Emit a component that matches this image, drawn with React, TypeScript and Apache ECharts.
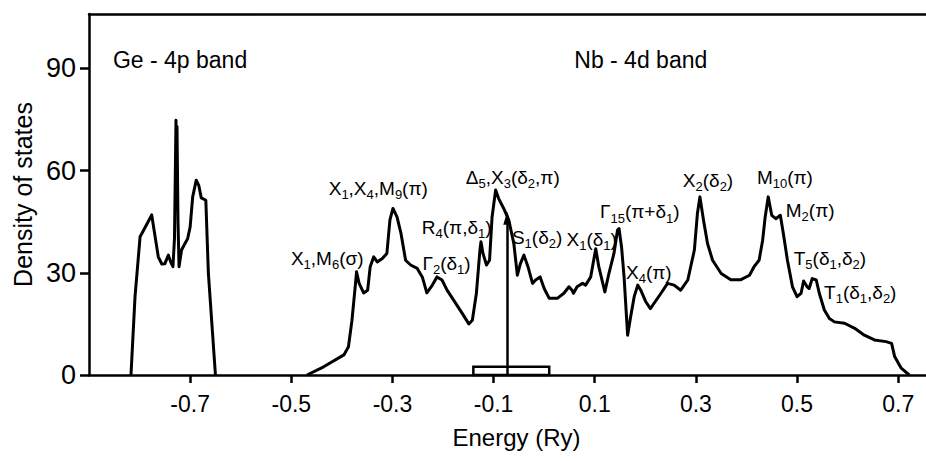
import React, { useEffect, useRef } from "react";
import * as echarts from "echarts";

const xTicks = [-0.7, -0.5, -0.3, -0.1, 0.1, 0.3, 0.5, 0.7];
const yTicks = [0, 30, 60, 90];

const geEnergy = [-0.817, -0.809, -0.799, -0.792, -0.776, -0.763, -0.756, -0.75, -0.743, -0.738, -0.734, -0.731, -0.728, -0.727, -0.726, -0.724, -0.722, -0.717, -0.71, -0.705, -0.7, -0.695, -0.688, -0.683, -0.678, -0.669, -0.664, -0.65];
const geDos = [0, 23, 40.6, 42.5, 47.0, 34.7, 32.6, 32.7, 35.2, 33.0, 31.8, 40, 74.8, 60, 73, 45, 31.8, 36.7, 38.7, 40, 43.5, 52.3, 57.2, 55.7, 52, 51.3, 30, 0];

const nbEnergy = [-0.469, -0.436, -0.396, -0.387, -0.38, -0.373, -0.371, -0.366, -0.357, -0.349, -0.344, -0.337, -0.33, -0.32, -0.311, -0.305, -0.299, -0.291, -0.283, -0.274, -0.264, -0.251, -0.241, -0.232, -0.221, -0.212, -0.202, -0.192, -0.179, -0.162, -0.149, -0.142, -0.134, -0.127, -0.125, -0.121, -0.114, -0.108, -0.103, -0.096, -0.09, -0.08, -0.07, -0.06, -0.053, -0.047, -0.04, -0.032, -0.023, -0.017, -0.008, 0.0, 0.01, 0.026, 0.039, 0.049, 0.055, 0.058, 0.065, 0.076, 0.082, 0.092, 0.102, 0.108, 0.12, 0.128, 0.138, 0.145, 0.148, 0.153, 0.158, 0.165, 0.171, 0.178, 0.185, 0.191, 0.201, 0.21, 0.217, 0.231, 0.244, 0.257, 0.27, 0.284, 0.297, 0.303, 0.308, 0.315, 0.323, 0.333, 0.35, 0.369, 0.389, 0.406, 0.415, 0.425, 0.432, 0.437, 0.443, 0.45, 0.458, 0.467, 0.473, 0.481, 0.491, 0.5, 0.508, 0.513, 0.52, 0.524, 0.53, 0.538, 0.544, 0.554, 0.564, 0.574, 0.594, 0.614, 0.633, 0.653, 0.676, 0.687, 0.693, 0.706, 0.722];
const nbDos = [0, 2.4, 5.9, 8.3, 16.1, 26.9, 30.3, 27.0, 24.1, 24.9, 31.8, 34.7, 33.2, 34.2, 35.7, 45.5, 48.9, 46.4, 41.5, 33.7, 32.3, 31.3, 28.8, 24.1, 26.4, 28.8, 27.9, 24.9, 22.0, 18.1, 15.0, 16.1, 24.0, 36.7, 39.1, 35.7, 32.3, 33.7, 46.4, 54.3, 51.8, 48.9, 45.5, 38.6, 29.3, 32.7, 35.2, 31.8, 26.9, 27.9, 28.8, 25.4, 22.5, 22.5, 24.0, 25.9, 24.9, 24.0, 25.9, 26.9, 26.4, 28.8, 37.1, 31.8, 24.4, 29.8, 35.7, 42.5, 43.0, 37.6, 28.8, 11.7, 17.1, 23.0, 26.4, 24.9, 21.5, 19.5, 21.0, 24.0, 26.9, 26.4, 24.9, 27.9, 36.7, 47.4, 52.3, 45.5, 38.6, 33.7, 29.8, 28.0, 28.0, 29.3, 31.8, 33.7, 39.6, 46.4, 52.3, 46.9, 45.9, 46.9, 41.5, 33.7, 25.9, 23.0, 24.0, 27.6, 25.9, 25.4, 28.3, 27.9, 24.0, 19.1, 16.6, 15.6, 15.2, 13.7, 11.7, 10.3, 9.8, 9.3, 5.4, 2.0, 0];

// Fermi level marker and the small box on the energy axis
const fermiEnergy = -0.073;
const fermiArrowTop = 46;
const boxEnergyRange = [-0.14, 0.01];
const boxHeight = 2.4;

// annotations (rich text: {s|...} = subscript)
const annoText = [
  "Ge - 4p band",
  "Nb - 4d band",
  "X{s|1},M{s|6}(σ)",
  "X{s|1},X{s|4},M{s|9}(π)",
  "Δ{s|5},X{s|3}(δ{s|2},π)",
  "R{s|4}(π,δ{s|1})",
  "Γ{s|2}(δ{s|1})",
  "S{s|1}(δ{s|2})",
  "X{s|1}(δ{s|1})",
  "Γ{s|15}(π+δ{s|1})",
  "X{s|4}(π)",
  "X{s|2}(δ{s|2})",
  "M{s|10}(π)",
  "M{s|2}(π)",
  "T{s|5}(δ{s|1},δ{s|2})",
  "T{s|1}(δ{s|1},δ{s|2})",
];
const annoEnergy = [-0.72, 0.191, -0.429, -0.328, -0.062, -0.173, -0.193, -0.014, 0.094, 0.189, 0.207, 0.324, 0.476, 0.526, 0.565, 0.625];
const annoDos = [92.4, 92.4, 34.3, 54.8, 58.1, 43.4, 32.8, 40.5, 39.8, 48.0, 30.2, 57.2, 58.1, 48.4, 34.3, 24.3];

const FONT = "'Liberation Sans', Arial, sans-serif";
const INK = "#000";

export default function App() {
  const ref = useRef<HTMLDivElement>(null);

  useEffect(() => {
    if (!ref.current) return;
    const chart = echarts.init(ref.current, undefined, { renderer: "svg" });

    const geData = geEnergy.map((e, i) => [e, geDos[i]]);
    const nbData = nbEnergy.map((e, i) => [e, nbDos[i]]);
    const annoData = annoText.map((t, i) => {
      const big = i < 2;
      return {
        value: [annoEnergy[i], annoDos[i]],
        label: {
          formatter: t,
          fontSize: big ? 23 : 19,
        },
      };
    });

    chart.setOption({
      animation: false,
      backgroundColor: "#fff",
      textStyle: { fontFamily: FONT, color: INK },
      grid: { left: 89, top: 14, right: 0, bottom: 86, containLabel: false },
      xAxis: [
        {
          type: "value",
          min: -0.9,
          max: 0.755,
          interval: 0.2,
          position: "bottom",
          name: "Energy (Ry)",
          nameLocation: "middle",
          nameGap: 50,
          nameTextStyle: { fontSize: 24, color: INK, fontFamily: FONT, padding: [0, 0, 0, 18] },
          axisLine: { show: true, onZero: false, lineStyle: { color: INK, width: 2.5 } },
          axisTick: { show: true, customValues: xTicks, length: 8, lineStyle: { color: INK, width: 2.5 } },
          axisLabel: {
            show: true,
            customValues: xTicks,
            margin: 17,
            fontSize: 23,
            color: INK,
            fontFamily: FONT,
            formatter: (v: number) => v.toFixed(1),
          },
          splitLine: { show: false },
        },
        {
          type: "value",
          min: -0.9,
          max: 0.755,
          position: "top",
          axisLine: { show: true, onZero: false, lineStyle: { color: INK, width: 2.5 } },
          axisTick: { show: false },
          axisLabel: { show: false },
          splitLine: { show: false },
        },
      ],
      yAxis: {
        type: "value",
        min: 0,
        max: 106,
        interval: 30,
        position: "left",
        name: "Density of states",
        nameLocation: "middle",
        nameGap: 52,
        nameTextStyle: { fontSize: 25, color: INK, fontFamily: FONT },
        axisLine: { show: true, onZero: false, lineStyle: { color: INK, width: 2.5 } },
        axisTick: { show: true, customValues: yTicks, length: 9, lineStyle: { color: INK, width: 2.5 } },
        axisLabel: { show: true, customValues: yTicks, margin: 13, fontSize: 27, color: INK, fontFamily: FONT },
        splitLine: { show: false },
      },
      series: [
        {
          name: "Ge-4p",
          type: "line",
          data: geData,
          showSymbol: false,
          symbol: "none",
          lineStyle: { color: INK, width: 3, join: "round" },
          silent: true,
        },
        {
          name: "Nb-4d",
          type: "line",
          data: nbData,
          showSymbol: false,
          symbol: "none",
          lineStyle: { color: INK, width: 3, join: "round" },
          silent: true,
          markLine: {
            silent: true,
            symbol: ["none", "triangle"],
            symbolSize: [8, 13],
            label: { show: false },
            lineStyle: { color: INK, width: 2.5, type: "solid" },
            itemStyle: { color: INK },
            data: [[{ coord: [fermiEnergy, 0] }, { coord: [fermiEnergy, fermiArrowTop] }]],
          },
          markArea: {
            silent: true,
            itemStyle: { color: "rgba(0,0,0,0)", borderColor: INK, borderWidth: 2.5 },
            data: [[{ coord: [boxEnergyRange[0], 0] }, { coord: [boxEnergyRange[1], boxHeight] }]],
          },
        },
        {
          name: "labels",
          type: "scatter",
          data: annoData,
          symbolSize: 0,
          silent: true,
          itemStyle: { opacity: 1 },
          label: {
            show: true,
            position: "inside",
            align: "center",
            verticalAlign: "middle",
            color: INK,
            opacity: 1,
            fontFamily: FONT,
            fontSize: 19,
            rich: {
              s: { fontSize: 13, padding: [13, 0, 0, 0], color: INK, fontFamily: FONT },
            },
          },
        },
      ],
    });

    return () => chart.dispose();
  }, []);

  return (
    <div
      ref={ref}
      style={{ position: "absolute", left: 0, top: 0, width: 926, height: 461 }}
    />
  );
}
